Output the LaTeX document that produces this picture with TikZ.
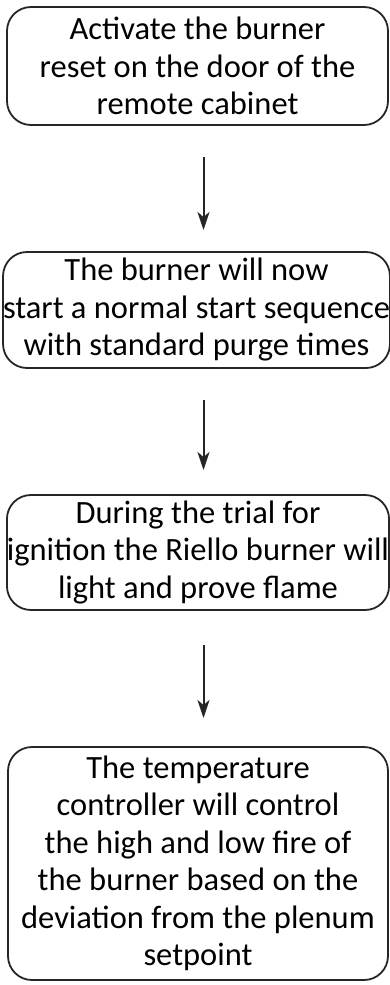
\documentclass[tikz,border=0pt]{standalone}
\usepackage{fontspec}
\setmainfont{Carlito}
\usetikzlibrary{arrows.meta}
\begin{document}
\begin{tikzpicture}[x=1pt,y=-1pt,
  stepbox/.style={draw=black!85, line width=1.8pt, rounded corners=24pt, minimum width=381pt, align=center, inner sep=0pt,
    font=\fontsize{32.5}{37.5}\selectfont},
  flow/.style={line width=2pt, draw=black!85, -{Stealth[length=18pt,width=12pt,inset=5pt]}}]
\useasboundingbox (0,0) rectangle (390,985);
\node[stepbox, minimum height=118pt] (b1) at (197.5,66) {Activate the burner\\reset on the door of the\\remote cabinet};
\node[stepbox, minimum height=116pt, minimum width=383pt] (b2) at (196.5,310) {The burner will now\\start a normal start sequence\\with standard purge times};
\node[stepbox, minimum height=115pt, minimum width=380pt] (b3) at (198,552.5) {During the trial for\\ignition the Riello burner will\\light and prove flame};
\node[stepbox, minimum height=233pt, minimum width=380pt] (b4) at (198,863.5) {The temperature\\controller will control\\the high and low fire of\\the burner based on the\\deviation from the plenum\\setpoint};
\coordinate (a1s) at (203.5,157); \coordinate (a1e) at (203.5,230);
\coordinate (a2s) at (203.5,400); \coordinate (a2e) at (203.5,470);
\coordinate (a3s) at (203.5,645); \coordinate (a3e) at (203.5,718);
\draw[flow] (a1s) -- (a1e);
\draw[flow] (a2s) -- (a2e);
\draw[flow] (a3s) -- (a3e);
\end{tikzpicture}
\end{document}
